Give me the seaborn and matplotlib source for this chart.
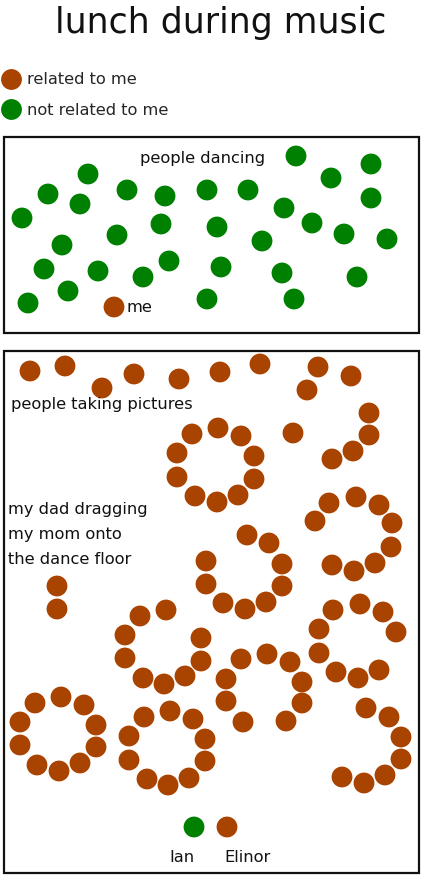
import matplotlib
matplotlib.use("Agg")
import matplotlib.pyplot as plt
import seaborn as sns
import pandas as pd
from matplotlib.patches import Rectangle

sns.set_style("white")
plt.rcParams['font.family'] = ['DejaVu Sans']

BROWN = "#A94400"
GREEN = "#008000"

# --- data: people positions (pixel-like coordinates, y downward) ---
dancers_x = [296, 371, 88, 331, 48, 127, 165, 207, 248, 371, 80, 284, 22, 161, 217, 312,
             344, 387, 62, 117, 262, 44, 98, 143, 169, 221, 282, 357, 68, 28, 207, 294]
dancers_y = [156, 164, 174, 178, 194, 190, 196, 190, 190, 198, 204, 208, 218, 224, 227, 223,
             234, 239, 245, 235, 241, 269, 271, 277, 261, 267, 273, 277, 291, 303, 299, 299]
me_x = [114]
me_y = [307]

family_x = [30, 65, 102, 134, 179, 220, 260, 318, 307, 351, 369, 369, 353, 332, 293,
            192, 218, 241, 254, 254, 238, 217, 195, 177, 177,
            329, 356, 379, 315, 392, 391, 375, 354, 332,
            247, 269, 282, 282, 266, 245, 223, 206, 206,
            57, 57,
            166, 140, 125, 125, 143, 164, 185, 201, 201,
            333, 360, 383, 396, 319, 319, 336, 358, 379,
            241, 267, 290, 302, 226, 226, 302, 243, 286,
            35, 61, 84, 96, 96, 80, 59, 37, 20, 20,
            144, 170, 193, 205, 205, 189, 168, 147, 129, 129,
            366, 389, 401, 401, 385, 364, 342]
family_y = [371, 366, 388, 374, 379, 372, 364, 367, 390, 376, 413, 435, 451, 459, 433,
            434, 428, 436, 456, 479, 495, 502, 496, 477, 453,
            503, 497, 505, 521, 523, 547, 563, 571, 565,
            535, 543, 564, 586, 602, 609, 603, 584, 561,
            586, 609,
            610, 616, 635, 658, 678, 684, 676, 661, 638,
            610, 604, 612, 632, 629, 653, 672, 678, 670,
            659, 654, 662, 682, 679, 701, 703, 722, 721,
            703, 697, 705, 725, 747, 763, 771, 765, 745, 722,
            717, 711, 719, 739, 761, 778, 785, 779, 760, 736,
            708, 717, 737, 759, 775, 783, 777]
ian_x, ian_y = [194], [827]
elinor_x, elinor_y = [227], [827]

groups = ["related to me", "not related to me"]

df = pd.DataFrame({
    "x": dancers_x + me_x + family_x + ian_x + elinor_x,
    "y": dancers_y + me_y + family_y + ian_y + elinor_y,
    "group": (["not related to me"] * len(dancers_x) + ["related to me"] * len(me_x)
              + ["related to me"] * len(family_x) + ["not related to me"] * len(ian_x)
              + ["related to me"] * len(elinor_x)),
})

fig = plt.figure(figsize=(4.23, 8.76), dpi=100)
ax = fig.add_axes([0, 0, 1, 1])
ax.set_xlim(0, 423)
ax.set_ylim(876, 0)
ax.axis("off")

ax.add_patch(Rectangle((4, 137), 415, 196, fill=False, lw=1.6, ec="#111111"))
ax.add_patch(Rectangle((4, 351), 415, 522, fill=False, lw=1.6, ec="#111111"))

sns.scatterplot(data=df, x="x", y="y", hue="group", hue_order=groups,
                palette={"related to me": BROWN, "not related to me": GREEN},
                s=225, linewidth=0, ax=ax, legend=True)

FS = 11.7
sns.move_legend(ax, "upper left", bbox_to_anchor=(-0.028, 1 - 66 / 876), frameon=False,
                title=None, fontsize=FS, handletextpad=0.0, labelspacing=0.95,
                borderaxespad=0)

tc = "#111111"
ax.text(221, 33, "lunch during music", ha="center", va="baseline", fontsize=25, color=tc)
ax.text(203, 159, "people dancing", ha="center", va="center", fontsize=FS, color=tc)
ax.text(127, 307, "me", ha="left", va="center", fontsize=FS, color=tc)
ax.text(11, 404, "people taking pictures", ha="left", va="center", fontsize=FS, color=tc)
ax.text(8, 502, "my dad dragging\nmy mom onto\nthe dance floor", ha="left", va="top",
        fontsize=FS, color=tc, linespacing=1.83)
ax.text(182, 858, "Ian", ha="center", va="center", fontsize=FS, color=tc)
ax.text(247, 858, "Elinor", ha="center", va="center", fontsize=FS, color=tc)

fig.savefig("out.png", dpi=100)
